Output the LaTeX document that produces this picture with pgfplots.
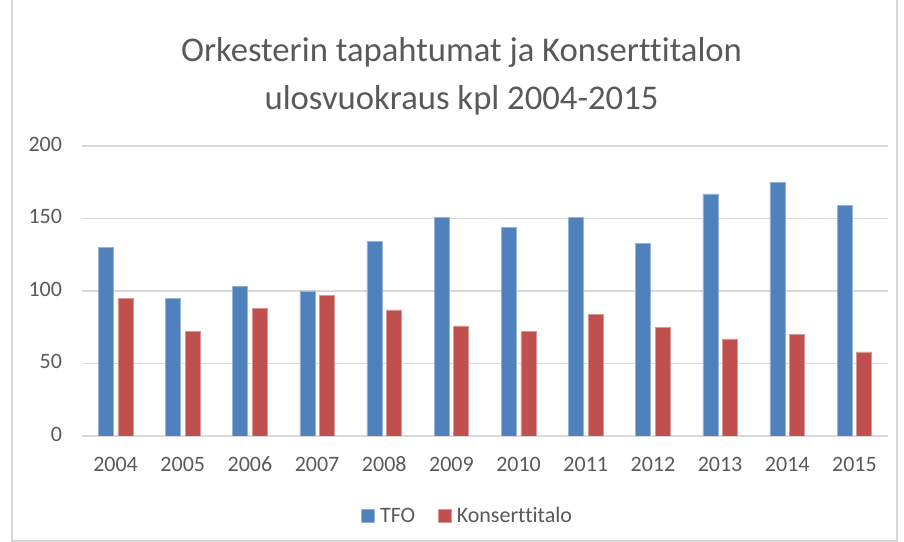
\documentclass[border=0pt]{standalone}
\usepackage{pgfplots}
\pgfplotsset{compat=1.18}
\usepackage{fontspec}
\setmainfont[Ligatures=NoCommon]{Carlito}
\definecolor{tfo}{HTML}{4F81BD}
\definecolor{kt}{HTML}{C0504D}
\definecolor{gridc}{HTML}{D9D9D9}
\definecolor{txt}{HTML}{595959}
\begin{document}
\begin{tikzpicture}
\begin{axis}[
  scale only axis,
  width=604.5pt, height=217.5pt,
  ybar=3.4pt, bar width=11.25pt,
  xmin=-0.5, xmax=11.5,
  ymin=0, ymax=200,
  ytick={0,50,100,150,200},
  xtick=data,
  xticklabels={2004,2005,2006,2007,2008,2009,2010,2011,2012,2013,2014,2015},
  axis x line*=bottom, axis y line*=left,
  x axis line style={draw=gridc, line width=0.9pt},
  y axis line style={draw=none},
  ymajorgrids, grid style={draw=gridc, line width=0.9pt},
  major tick length=0pt,
  tick label style={font=\fontsize{16.5}{19}\selectfont, text=txt},
  typeset ticklabels with strut,
  /pgf/number format/assume math mode=true,
  yticklabel style={xshift=-11.5pt},
  xticklabel style={yshift=-10pt},
  legend style={at={(0.478,-0.276)}, anchor=center, draw=none, legend columns=2,
    font=\fontsize{16.5}{19}\selectfont, text=txt,
    /tikz/every odd column/.append style={column sep=0pt},
    /tikz/every even column/.append style={column sep=16pt},
    nodes={inner sep=1pt}},
  legend image code/.code={\fill[#1] (0pt,-4.9pt) rectangle (9.75pt,4.9pt);},
  legend cell align=left,
]
\addplot[fill=tfo, draw=tfo!60!white, line width=0.4pt] coordinates {
(0,130) (1,95) (2,103) (3,100) (4,134) (5,151) (6,144) (7,151) (8,133) (9,167) (10,175) (11,159)};
\addplot[fill=kt, draw=kt!60!white, line width=0.4pt] coordinates {
(0,95) (1,72) (2,88) (3,97) (4,87) (5,76) (6,72) (7,84) (8,75) (9,67) (10,70) (11,58)};
\legend{\hspace{3pt}TFO,\hspace{3pt}Konserttitalo}
\end{axis}
\node[align=center, text=txt, font=\fontsize{26}{36}\selectfont] at ([shift={(-17.6pt,52.5pt)}]current axis.north) {Orkesterin tapahtumat ja Konserttitalon\\ulosvuokraus kpl 2004-2015};
\draw[gridc, line width=0.9pt] ([shift={(-52.5pt,109.5pt)}]current axis.north west) -- ([shift={(-52.5pt,-78.8pt)}]current axis.south west) -- ([shift={(6.8pt,-78.8pt)}]current axis.south east) -- ([shift={(6.8pt,109.5pt)}]current axis.north east);
\pgfresetboundingbox
\useasboundingbox ([shift={(-61.5pt,-79.5pt)}]current axis.south west) rectangle ([shift={(12pt,109.5pt)}]current axis.north east);
\end{tikzpicture}
\end{document}
